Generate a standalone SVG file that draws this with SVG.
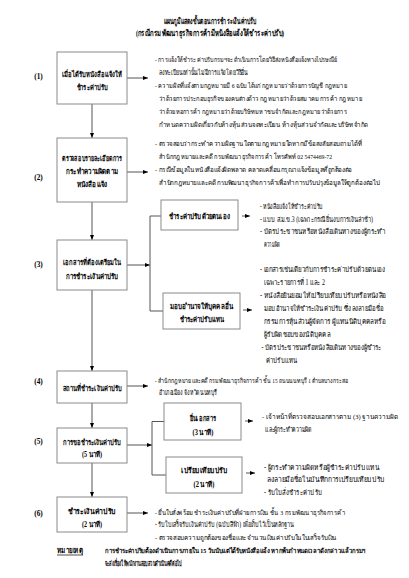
<svg xmlns="http://www.w3.org/2000/svg" width="409" height="578" viewBox="0 0 409 578">
<defs>
<marker id="ah" viewBox="0 0 5 4" refX="5" refY="2" markerWidth="5" markerHeight="4" markerUnits="userSpaceOnUse" orient="auto"><path d="M0,0 L5,2 L0,4 z" fill="#000"/></marker>
<style>
text{font-family:"Liberation Serif","DejaVu Serif",serif;font-size:7.3px;fill:#000}
.s{font-size:6.9px}
.xs{font-size:6.5px}
.b{font-weight:bold;text-anchor:middle;font-size:7.5px}
.t{font-weight:bold;text-anchor:middle;font-size:8.5px}
.n{font-weight:bold}
.lbl{text-anchor:middle;font-weight:bold}
rect{fill:#fff;stroke:#8a8a8a;stroke-width:1}
.c line,.c path{stroke:#555;stroke-width:1;fill:none}
.arr{marker-end:url(#ah)}
</style>
</defs>
<rect x="0" y="0" width="409" height="578" style="fill:#fff;stroke:none"/>
<g id="title">
<text class="t" x="210" y="24" textLength="93" lengthAdjust="spacingAndGlyphs">แผนภูมิแสดงขั้นตอนการชำระเงินค่าปรับ</text>
<text class="t" x="210" y="36" textLength="148" lengthAdjust="spacingAndGlyphs">(กรณีกรมพัฒนาธุรกิจการค้ามีหนังสือแจ้งให้ชำระค่าปรับ)</text>
</g>
<g class="c" id="connectors">
<line class="arr" x1="92" y1="104" x2="92" y2="138"/>
<line class="arr" x1="92" y1="202" x2="92" y2="240"/>
<line class="arr" x1="92" y1="290" x2="92" y2="371"/>
<line class="arr" x1="92" y1="403" x2="92" y2="428"/>
<line class="arr" x1="92" y1="463" x2="92" y2="497"/>
<line class="arr" x1="127" y1="78" x2="148" y2="78"/>
<line class="arr" x1="127" y1="172" x2="148" y2="172"/>
<line class="arr" x1="127" y1="265" x2="150" y2="265"/>
<line class="arr" x1="127" y1="386" x2="148" y2="386"/>
<line class="arr" x1="127" y1="445" x2="152" y2="445"/>
<line class="arr" x1="127" y1="513" x2="148" y2="513"/>
<path d="M161,216 H150 V311 H163"/>
<path d="M164,421.5 H152 V475 H166"/>
<line class="arr" x1="242" y1="216" x2="250" y2="216"/>
<line class="arr" x1="243" y1="310" x2="252" y2="310"/>
<line class="arr" x1="245" y1="421" x2="253" y2="421"/>
<line class="arr" x1="246" y1="473" x2="255" y2="473"/>
</g>
<g id="step1">
<text class="lbl" x="38.5" y="79">(1)</text>
<rect x="57" y="52" width="70" height="52"/>
<text class="b" x="92" y="77" textLength="60" lengthAdjust="spacingAndGlyphs">เมื่อได้รับหนังสือแจ้งให้</text>
<text class="b" x="92" y="90" textLength="31" lengthAdjust="spacingAndGlyphs">ชำระค่าปรับ</text>
</g>
<g id="step1-notes">
<text class="s" x="155" y="62" textLength="182" lengthAdjust="spacingAndGlyphs">- การแจ้งให้ชำระค่าปรับกรมฯจะดำเนินการโดยวิธีส่งหนังสือแจ้งทางไปรษณีย์</text>
<text x="159" y="75" textLength="89" lengthAdjust="spacingAndGlyphs">ลงทะเบียนเท่านั้นไม่มีการแจ้งโดยวิธีอื่น</text>
<text class="s" x="155" y="88" textLength="192" lengthAdjust="spacingAndGlyphs">- ความผิดที่แจ้งตามกฎหมายมี 6 ฉบับ ได้แก่ กฎหมายว่าด้วยการบัญชี กฎหมาย</text>
<text class="s" x="159" y="101" textLength="203" lengthAdjust="spacingAndGlyphs">ว่าด้วยการประกอบธุรกิจของคนต่างด้าว กฎหมายว่าด้วยสมาคมการค้า กฎหมาย</text>
<text class="s" x="159" y="114" textLength="188" lengthAdjust="spacingAndGlyphs">ว่าด้วยหอการค้า กฎหมายว่าด้วยบริษัทมหาชนจำกัดและกฎหมายว่าด้วยการ</text>
<text class="s" x="159" y="127" textLength="209" lengthAdjust="spacingAndGlyphs">กำหนดความผิดเกี่ยวกับห้างหุ้นส่วนจดทะเบียน ห้างหุ้นส่วนจำกัดและบริษัทจำกัด</text>
</g>
<g id="step2">
<text class="lbl" x="38.5" y="180">(2)</text>
<rect x="57" y="138" width="70" height="64"/>
<text class="b" x="92" y="161" textLength="60" lengthAdjust="spacingAndGlyphs">ตรวจสอบรายละเอียดการ</text>
<text class="b" x="92" y="174" textLength="52" lengthAdjust="spacingAndGlyphs">กระทำความผิดตาม</text>
<text class="b" x="92" y="187" textLength="31" lengthAdjust="spacingAndGlyphs">หนังสือแจ้ง</text>
</g>
<g id="step2-notes">
<text class="s" x="155" y="146" textLength="207" lengthAdjust="spacingAndGlyphs">- ตรวจสอบว่ากระทำความผิดฐานใดตามกฎหมายใดหากมีข้อสงสัยสอบถามได้ที่</text>
<text class="s" x="159" y="159" textLength="173" lengthAdjust="spacingAndGlyphs">สำนักกฎหมายและคดี กรมพัฒนาธุรกิจการค้า โทรศัพท์ 02 5474469-72</text>
<text class="s" x="155" y="172" textLength="197" lengthAdjust="spacingAndGlyphs">- กรณีข้อมูลในหนังสือแจ้งผิดพลาด คลาดเคลื่อนกรุณาแจ้งข้อมูลที่ถูกต้องต่อ</text>
<text class="xs" x="159" y="185" textLength="221" lengthAdjust="spacingAndGlyphs">สำนักกฎหมายและคดี กรมพัฒนาธุรกิจการค้าเพื่อทำการปรับปรุงข้อมูลให้ถูกต้องต่อไป</text>
</g>
<g id="step3">
<text class="lbl" x="38.5" y="267">(3)</text>
<rect x="57" y="240" width="70" height="50"/>
<text class="b" x="92" y="265" textLength="58" lengthAdjust="spacingAndGlyphs">เอกสารที่ต้องเตรียมใน</text>
<text class="b" x="92" y="279" textLength="53" lengthAdjust="spacingAndGlyphs">การชำระเงินค่าปรับ</text>
</g>
<g id="step3a">
<rect x="161" y="200" width="77" height="30"/>
<text class="b" x="199.5" y="219" textLength="61" lengthAdjust="spacingAndGlyphs">ชำระค่าปรับด้วยตนเอง</text>
</g>
<g id="step3a-notes">
<text x="260" y="209" textLength="63" lengthAdjust="spacingAndGlyphs">- หนังสือแจ้งให้ชำระค่าปรับ</text>
<text x="260" y="221.5" textLength="113" lengthAdjust="spacingAndGlyphs">- แบบ ส.ม.ข.3 (เฉพาะกรณียื่นงบการเงินล่าช้า)</text>
<text x="260" y="234" textLength="125" lengthAdjust="spacingAndGlyphs">- บัตรประชาชนหรือหนังสือเดินทางของผู้กระทำ</text>
<text x="264" y="246.5" textLength="16" lengthAdjust="spacingAndGlyphs">ความผิด</text>
</g>
<g id="step3b">
<rect x="163" y="293" width="77" height="36"/>
<text class="b" x="201.5" y="309" textLength="63" lengthAdjust="spacingAndGlyphs">มอบอำนาจให้บุคคลอื่น</text>
<text class="b" x="201.5" y="322" textLength="44" lengthAdjust="spacingAndGlyphs">ชำระค่าปรับแทน</text>
</g>
<g id="step3b-notes">
<text x="260" y="272" textLength="125" lengthAdjust="spacingAndGlyphs">- เอกสารเช่นเดียวกับการชำระค่าปรับด้วยตนเอง</text>
<text x="264" y="285" textLength="61" lengthAdjust="spacingAndGlyphs">เฉพาะรายการที่ 1 และ 2</text>
<text x="260" y="298" textLength="126" lengthAdjust="spacingAndGlyphs">- หนังสือยินยอมให้เปรียบเทียบปรับหรือหนังสือ</text>
<text x="264" y="311" textLength="119" lengthAdjust="spacingAndGlyphs">มอบอำนาจให้ชำระเงินค่าปรับ ซึ่งลงลายมือชื่อ</text>
<text x="264" y="324" textLength="121" lengthAdjust="spacingAndGlyphs">กรรมการหุ้นส่วนผู้จัดการ ผู้แทนนิติบุคคลหรือ</text>
<text x="264" y="337" textLength="66" lengthAdjust="spacingAndGlyphs">ผู้รับผิดชอบของนิติบุคคล</text>
<text x="261.5" y="350" textLength="120" lengthAdjust="spacingAndGlyphs">- บัตรประชาชนหรือหนังสือเดินทางของผู้ชำระ</text>
<text x="266" y="363" textLength="31" lengthAdjust="spacingAndGlyphs">ค่าปรับแทน</text>
</g>
<g id="step4">
<text class="lbl" x="38.5" y="384">(4)</text>
<rect x="57" y="371" width="70" height="32"/>
<text class="b" x="92" y="391" textLength="59" lengthAdjust="spacingAndGlyphs">สถานที่ชำระเงินค่าปรับ</text>
</g>
<g id="step4-notes">
<text class="s" x="155" y="382.5" textLength="193" lengthAdjust="spacingAndGlyphs">- สำนักกฎหมายและคดี กรมพัฒนาธุรกิจการค้า ชั้น 15 ถนนนนทบุรี 1 ตำบลบางกระสอ</text>
<text x="159" y="395" textLength="58" lengthAdjust="spacingAndGlyphs">อำเภอเมือง จังหวัดนนทบุรี</text>
</g>
<g id="step5">
<text class="lbl" x="38.5" y="444">(5)</text>
<rect x="57" y="428" width="70" height="35"/>
<text class="b" x="92" y="444.5" textLength="58" lengthAdjust="spacingAndGlyphs">การขอชำระเงินค่าปรับ</text>
<text class="b" x="92" y="457" textLength="20" lengthAdjust="spacingAndGlyphs">(5 นาที)</text>
</g>
<g id="step5a">
<rect x="164" y="403" width="77" height="37"/>
<text class="b" x="203" y="421" textLength="27" lengthAdjust="spacingAndGlyphs">ยื่นเอกสาร</text>
<text class="b" x="203" y="434.5" textLength="21" lengthAdjust="spacingAndGlyphs">(3 นาที)</text>
</g>
<g id="step5a-notes">
<text class="xs" x="262" y="419" textLength="136" lengthAdjust="spacingAndGlyphs">- เจ้าหน้าที่ตรวจสอบเอกสารตาม (3) ฐานความผิด</text>
<text x="265" y="431.5" textLength="47" lengthAdjust="spacingAndGlyphs">และผู้กระทำความผิด</text>
</g>
<g id="step5b">
<rect x="166" y="457" width="76" height="36"/>
<text class="b" x="204" y="473" textLength="46" lengthAdjust="spacingAndGlyphs">เปรียบเทียบปรับ</text>
<text class="b" x="204" y="487" textLength="21" lengthAdjust="spacingAndGlyphs">(2 นาที)</text>
</g>
<g id="step5b-notes">
<text x="264" y="469.5" textLength="115" lengthAdjust="spacingAndGlyphs">- ผู้กระทำความผิดหรือผู้ชำระค่าปรับแทน</text>
<text x="267" y="482" textLength="118" lengthAdjust="spacingAndGlyphs">ลงลายมือชื่อในบันทึกการเปรียบเทียบปรับ</text>
<text x="264" y="495" textLength="58" lengthAdjust="spacingAndGlyphs">- รับใบสั่งชำระค่าปรับ</text>
</g>
<g id="step6">
<text class="lbl" x="38.5" y="516">(6)</text>
<rect x="57" y="497" width="70" height="35"/>
<text class="b" x="92" y="514" textLength="48" lengthAdjust="spacingAndGlyphs">ชำระเงินค่าปรับ</text>
<text class="b" x="92" y="526.5" textLength="20" lengthAdjust="spacingAndGlyphs">(2 นาที)</text>
</g>
<g id="step6-notes">
<text class="s" x="155" y="514.5" textLength="190" lengthAdjust="spacingAndGlyphs">- ยื่นใบสั่งพร้อมชำระเงินค่าปรับที่ฝ่ายการเงิน ชั้น 3 กรมพัฒนาธุรกิจการค้า</text>
<text x="155" y="527" textLength="139" lengthAdjust="spacingAndGlyphs">- รับใบเสร็จรับเงินค่าปรับ (ฉบับสีฟ้า) เพื่อเก็บไว้เป็นหลักฐาน</text>
<text class="s" x="155" y="540" textLength="182" lengthAdjust="spacingAndGlyphs">- ตรวจสอบความถูกต้องของชื่อและจำนวนเงินค่าปรับในใบเสร็จรับเงิน</text>
</g>
<g id="note">
<text class="n" x="57" y="553" textLength="26" lengthAdjust="spacingAndGlyphs">หมายเหตุ</text>
<line x1="57" y1="555" x2="83" y2="555" stroke="#000" stroke-width="0.7"/>
<text class="n xs" x="105" y="553" textLength="261" lengthAdjust="spacingAndGlyphs">การชำระค่าปรับต้องดำเนินการภายใน 15 วันนับแต่ได้รับหนังสือแจ้ง หากพ้นกำหนดเวลาดังกล่าวแล้วกรมฯ</text>
<text class="n" x="105" y="566" textLength="77" lengthAdjust="spacingAndGlyphs">จะส่งเรื่องให้พนักงานสอบสวนดำเนินคดีต่อไป</text>
</g>
</svg>
